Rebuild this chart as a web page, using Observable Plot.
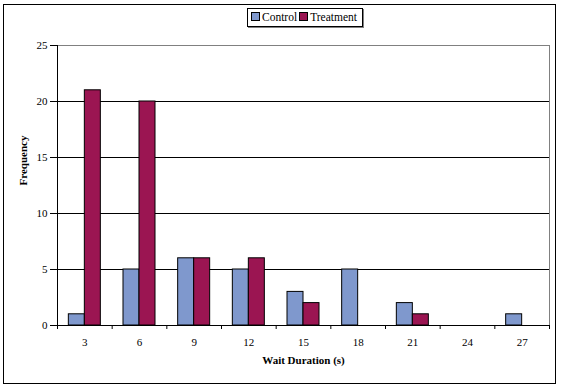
<!DOCTYPE html>
<html><head><meta charset="utf-8">
<script src="https://cdn.jsdelivr.net/npm/d3@7"></script>
<script src="https://cdn.jsdelivr.net/npm/@observablehq/plot@0.6"></script>
<style>
body{margin:0;background:#fff;}
#wrap{position:relative;width:561px;height:387px;font-family:"Liberation Serif","Times New Roman",serif;}
#chart{position:absolute;left:0;top:0;}
#border{position:absolute;left:3.3px;top:4.3px;width:552.5px;height:379.5px;border:1.5px solid #000;box-sizing:border-box;pointer-events:none}
#legend{position:absolute;left:247px;top:8px;height:19px;box-sizing:border-box;border:1px solid #000;box-shadow:1px 1px 0 #808080;background:#fff;padding:0 3px 0 3px;font-size:11.5px;line-height:17px;white-space:nowrap;color:#000}
#legend .sw{display:inline-block;width:7px;height:7px;border:1px solid #000;margin-right:2px;vertical-align:0px}
#legend .item{margin-right:2px}
</style></head>
<body><div id="wrap"><div id="chart"></div><div id="border"></div><div id="legend"></div></div>
<script>
const categories = ["3","6","9","12","15","18","21","24","27"];
const controlValues = [1,5,6,5,3,5,2,0,1];
const treatmentValues = [21,20,6,6,2,0,1,0,0];
const yTicks = [0,5,10,15,20,25];
const gridTicks = [5,10,15,20];
const seriesNames = ["Control","Treatment"];
const seriesColors = ["#7F98CD","#9B1552"];
const xLabel = "Wait Duration (s)";
const yLabel = "Frequency";

const W = 561, H = 387, mL = 57, mR = 12, mT = 45, mB = 62;
const step = (W - mL - mR) / categories.length;
const barW = 16;
const pad = 1 - barW / step;

const rows = categories.flatMap((c, i) => [
  {cat: c, series: seriesNames[0], value: controlValues[i]},
  {cat: c, series: seriesNames[1], value: treatmentValues[i]}
]);

const font = '"Liberation Serif","Times New Roman",serif';

const chart = Plot.plot({
  width: W, height: H,
  marginLeft: mL, marginRight: mR, marginTop: mT, marginBottom: mB,
  style: {fontFamily: font, fontSize: "11px", background: "transparent", color: "#000"},
  x: {domain: categories, paddingInner: pad, paddingOuter: pad / 2, round: false, label: null},
  y: {domain: [0, 25], label: null},
  color: {domain: seriesNames, range: seriesColors},
  marks: [
    Plot.frame({stroke: "#808080"}),
    Plot.gridY(gridTicks, {stroke: "#000", strokeOpacity: 1}),
    Plot.barY(rows.filter(d => d.series === seriesNames[0]), {x: "cat", y: "value", fill: "series", stroke: "#000", strokeWidth: 1, dx: -barW / 2}),
    Plot.barY(rows.filter(d => d.series === seriesNames[1]), {x: "cat", y: "value", fill: "series", stroke: "#000", strokeWidth: 1, dx: barW / 2}),
    Plot.ruleY([0], {stroke: "#000"}),
    Plot.ruleX([categories[0]], {dx: -step / 2, stroke: "#000"}),
    Plot.axisY({ticks: yTicks, tickSize: 7, tickPadding: 3, stroke: "#000", fill: "#000", label: null}),
    Plot.axisX({tickSize: 4, fill: "none", stroke: "#000", dx: -step / 2, label: null}),
    Plot.axisX({ticks: [categories[categories.length - 1]], tickSize: 4, fill: "none", stroke: "#000", dx: step / 2, label: null}),
    Plot.axisX({tickSize: 0, tickPadding: 13, fill: "#000", label: null}),
    Plot.text([xLabel], {text: d => d, frameAnchor: "bottom", dy: 38, fontWeight: "bold", fill: "#000"}),
    Plot.text([yLabel], {text: d => d, frameAnchor: "left", dx: -34, rotate: -90, fontWeight: "bold", fill: "#000"})
  ]
});
document.getElementById("chart").appendChild(chart);

const legend = document.getElementById("legend");
seriesNames.forEach((name, i) => {
  const item = document.createElement("span");
  item.className = "item";
  const sw = document.createElement("span");
  sw.className = "sw";
  sw.style.background = seriesColors[i];
  item.appendChild(sw);
  item.appendChild(document.createTextNode(name));
  legend.appendChild(item);
});
</script>
</body></html>
